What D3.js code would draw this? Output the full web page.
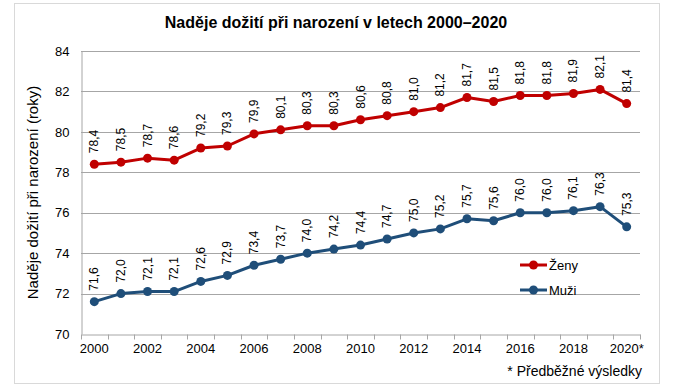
<!DOCTYPE html>
<html>
<head>
  <meta charset="utf-8">
  <script src="https://d3js.org/d3.v7.min.js"></script>
  <style>
    body { margin: 0; background: #fff; }
    svg { display: block; font-family: "Liberation Sans", Arial, sans-serif; }
  </style>
</head>
<body>
<script>
  // data
  var years = ["2000", "2001", "2002", "2003", "2004", "2005", "2006", "2007", "2008", "2009",
    "2010", "2011", "2012", "2013", "2014", "2015", "2016", "2017", "2018", "2019", "2020"];
  var zeny = [78.4, 78.5, 78.7, 78.6, 79.2, 79.3, 79.9, 80.1, 80.3, 80.3,
    80.6, 80.8, 81.0, 81.2, 81.7, 81.5, 81.8, 81.8, 81.9, 82.1, 81.4];
  var muzi = [71.6, 72.0, 72.1, 72.1, 72.6, 72.9, 73.4, 73.7, 74.0, 74.2,
    74.4, 74.7, 75.0, 75.2, 75.7, 75.6, 76.0, 76.0, 76.1, 76.3, 75.3];
  var yTicks = [70, 72, 74, 76, 78, 80, 82, 84];
  var xLabels = {"2000": "2000", "2002": "2002", "2004": "2004", "2006": "2006", "2008": "2008",
    "2010": "2010", "2012": "2012", "2014": "2014", "2016": "2016", "2018": "2018", "2020": "2020*"};

  var series = [
    {name: "Ženy", values: zeny, color: "#C00000"},
    {name: "Muži", values: muzi, color: "#1F4E79"}
  ];

  var W = 674, H = 386;
  var margin = {top: 51, right: 34, bottom: 52, left: 81};

  var svg = d3.select("body").append("svg")
    .attr("width", W)
    .attr("height", H);

  // outer frame
  svg.append("rect")
    .attr("x", 14.5).attr("y", 3.5)
    .attr("width", 645).attr("height", 380)
    .attr("fill", "#fff")
    .attr("stroke", "#D9D9D9");

  var x = d3.scaleBand()
    .domain(years)
    .range([margin.left, W - margin.right]);

  var y = d3.scaleLinear()
    .domain([70, 84])
    .range([H - margin.bottom, margin.top]);

  // gridlines
  svg.append("g")
    .selectAll("line")
    .data(yTicks.slice(1))
    .enter().append("line")
      .attr("x1", margin.left)
      .attr("x2", W - margin.right)
      .attr("y1", function (d) { return Math.round(y(d)) + 0.5; })
      .attr("y2", function (d) { return Math.round(y(d)) + 0.5; })
      .attr("stroke", "#A6A6A6")
      .attr("stroke-width", 1);

  // y axis
  var yAxis = svg.append("g")
    .attr("transform", "translate(" + (margin.left + 0.5) + ",0)")
    .call(d3.axisLeft(y).tickValues(yTicks).tickSize(0).tickPadding(12));
  yAxis.select(".domain").attr("stroke", "#A6A6A6");
  yAxis.selectAll("text").style("font-size", "13px").attr("fill", "#000");

  // x axis
  var xAxis = svg.append("g")
    .attr("transform", "translate(0," + (Math.round(y(70)) + 0.5) + ")")
    .call(d3.axisBottom(x).tickSize(0).tickPadding(9)
      .tickFormat(function (d) { return xLabels[d] || ""; }));
  xAxis.select(".domain").attr("stroke", "#A6A6A6");
  xAxis.selectAll("text").style("font-size", "13px").attr("fill", "#000");

  // tick marks between categories
  xAxis.selectAll(".sep")
    .data(years.concat(["end"]))
    .enter().append("line")
      .attr("x1", function (d, i) { return Math.round(margin.left + i * x.step()) + 0.5; })
      .attr("x2", function (d, i) { return Math.round(margin.left + i * x.step()) + 0.5; })
      .attr("y1", 0).attr("y2", 5)
      .attr("stroke", "#A6A6A6");

  var line = d3.line()
    .x(function (d, i) { return x(years[i]) + x.bandwidth() / 2; })
    .y(function (d) { return y(d); });

  series.forEach(function (s) {
    svg.append("path")
      .datum(s.values)
      .attr("d", line)
      .attr("fill", "none")
      .attr("stroke", s.color)
      .attr("stroke-width", 3)
      .attr("stroke-linejoin", "round");

    svg.append("g")
      .selectAll("circle")
      .data(s.values)
      .enter().append("circle")
        .attr("cx", function (d, i) { return x(years[i]) + x.bandwidth() / 2; })
        .attr("cy", function (d) { return y(d); })
        .attr("r", 4.5)
        .attr("fill", s.color);

    // rotated value labels
    svg.append("g")
      .selectAll("text")
      .data(s.values)
      .enter().append("text")
        .attr("transform", function (d, i) {
          var px = x(years[i]) + x.bandwidth() / 2;
          return "translate(" + (px + 4) + "," + (y(d) - 11) + ") rotate(-90)";
        })
        .style("font-size", "12px")
        .attr("fill", "#000")
        .text(function (d) { return d.toFixed(1).replace(".", ","); });
  });

  // legend
  var legend = svg.append("g")
    .attr("transform", "translate(520,265)");
  series.forEach(function (s, i) {
    var g = legend.append("g").attr("transform", "translate(0," + (i * 25) + ")");
    g.append("line")
      .attr("x1", 0).attr("x2", 27)
      .attr("stroke", s.color).attr("stroke-width", 3);
    g.append("circle")
      .attr("cx", 13.5).attr("r", 4.5).attr("fill", s.color);
    g.append("text")
      .attr("x", 29).attr("y", 4.5)
      .style("font-size", "13px")
      .text(s.name);
  });

  // title
  svg.append("text")
    .attr("x", 336).attr("y", 28)
    .attr("text-anchor", "middle")
    .style("font-size", "16px")
    .style("font-weight", "bold")
    .text("Naděje dožití při narození v letech 2000–2020");

  // y axis title
  svg.append("text")
    .attr("transform", "translate(38," + ((margin.top + H - margin.bottom) / 2) + ") rotate(-90)")
    .attr("text-anchor", "middle")
    .style("font-size", "15px")
    .text("Naděje dožití při narození (roky)");

  // footnote
  svg.append("text")
    .attr("x", 642).attr("y", 376)
    .attr("text-anchor", "end")
    .style("font-size", "14px")
    .text("* Předběžné výsledky");
</script>
</body>
</html>
